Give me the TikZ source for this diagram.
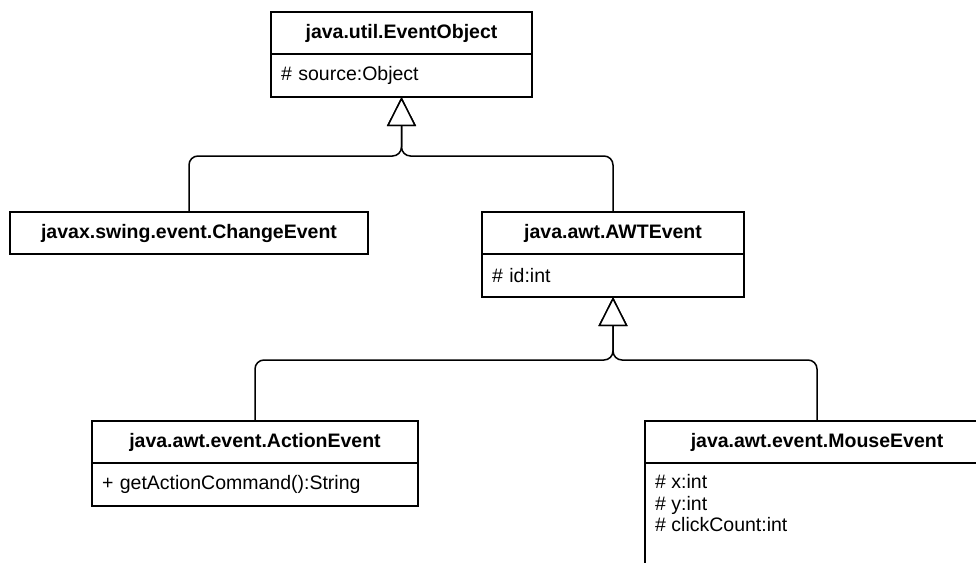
\documentclass[tikz,border=0pt]{standalone}
\usepackage{fontspec}
\setmainfont{Liberation Sans}
\usetikzlibrary{arrows.meta,positioning}

\tikzset{
  uml/.style={draw, line width=1.5pt, rectangle, inner sep=0pt, outer sep=0pt,
              font=\fontsize{19.5}{21.7}\selectfont},
  classtitle/.style={uml, font=\fontsize{19.5}{21.7}\selectfont\bfseries,
              minimum height=42pt, anchor=north west},
  members/.style={uml, minimum height=43pt, anchor=north, align=left,
              inner xsep=10pt},
  textonly/.style={inner sep=0pt, align=left, anchor=north west,
              font=\fontsize{19.5}{21.7}\selectfont},
  gen/.style={line width=1.5pt, rounded corners=9pt,
              -{Triangle[open, length=29pt, width=29pt, fill=white]}},
}

\begin{document}
\begin{tikzpicture}[x=1pt, y=-1pt]
  \useasboundingbox (0,0) rectangle (976,562);
  \clip (0,0) rectangle (976,562);

  % java.util.EventObject
  \node[classtitle, minimum width=261pt] (eo) at (271,12) {java.util.EventObject};
  \node[members, text width=241pt] (eoA) at (eo.south) {\# source:Object};

  % javax.swing.event.ChangeEvent
  \node[classtitle, minimum width=358pt] (ce) at (10,212) {javax.swing.event.ChangeEvent};

  % java.awt.AWTEvent
  \node[classtitle, minimum width=262pt] (awt) at (482,212) {java.awt.AWTEvent};
  \node[members, text width=242pt] (awtA) at (awt.south) {\# id:int};

  % java.awt.event.ActionEvent
  \node[classtitle, minimum width=326pt] (ae) at (92,421) {java.awt.event.ActionEvent};
  \node[members, text width=306pt] (aeA) at (ae.south) {+ getActionCommand():String};

  % java.awt.event.MouseEvent (runs past the page edge)
  \node[classtitle, minimum width=344pt] (me) at (645,421) {java.awt.event.MouseEvent};
  \node[members, text width=324pt, minimum height=160pt] (meA) at (me.south) {};
  \node[textonly] (meT) at ([xshift=10pt, yshift=-11pt]meA.north west)
       {\# x:int\\\# y:int\\\# clickCount:int};

  % generalisation joints
  \coordinate (j1) at (eoA.south |- 0,156);
  \coordinate (j2) at (awtA.south |- 0,360);

  \draw[gen] (ce.north)  |- (j1) -- (eoA.south);
  \draw[gen] (awt.north) |- (j1) -- (eoA.south);
  \draw[gen] (ae.north)  |- (j2) -- (awtA.south);
  \draw[gen] (me.north)  |- (j2) -- (awtA.south);
\end{tikzpicture}
\end{document}
